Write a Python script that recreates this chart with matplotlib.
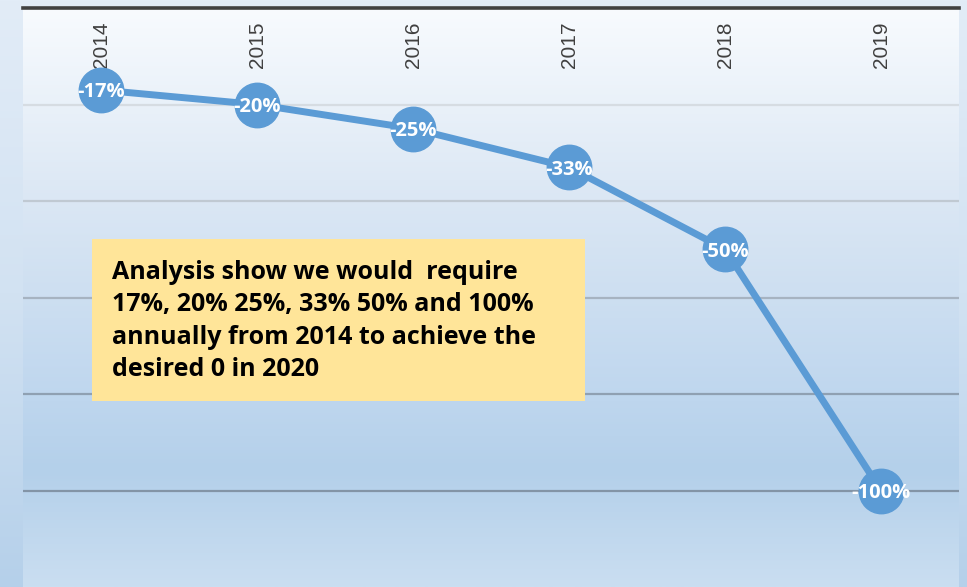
import numpy as np
import matplotlib
matplotlib.use("Agg")
import matplotlib.pyplot as plt
from matplotlib.colors import LinearSegmentedColormap
from matplotlib.patches import Rectangle

years = ["2014", "2015", "2016", "2017", "2018", "2019"]
values = [-17, -20, -25, -33, -50, -100]
point_labels = ["-17%", "-20%", "-25%", "-33%", "-50%", "-100%"]
y_ticks = [-20, -40, -60, -80, -100]
note_text = ("Analysis show we would  require\n"
             "17%, 20% 25%, 33% 50% and 100%\n"
             "annually from 2014 to achieve the\n"
             "desired 0 in 2020")

W, H = 967, 587
fig = plt.figure(figsize=(W / 100, H / 100), dpi=100)

# figure background gradient
bg_ax = fig.add_axes([0, 0, 1, 1], zorder=-10)
bg_cmap = LinearSegmentedColormap.from_list("bg", ["#e2ecf7", "#d2e2f2", "#b5d0ea"])
bg_ax.imshow(np.linspace(0, 1, 256).reshape(-1, 1), aspect="auto", cmap=bg_cmap,
             extent=[0, 1, 0, 1], origin="upper")
bg_ax.set_axis_off()

left, right, top, bottom = 23, 959, 8, 587
ax = fig.add_axes([left / W, 1 - bottom / H, (right - left) / W, (bottom - top) / H])
ax.set_facecolor("none")

x = np.arange(len(years))
ax.set_xlim(-0.5, len(years) - 0.5)
ax.set_ylim(-120, 0)

# plot area gradient
pa_cmap = LinearSegmentedColormap.from_list(
    "pa", [(0.0, "#f8fbfe"), (0.33, "#dbe7f4"), (0.68, "#bed6ee"),
           (0.80, "#b4d0ea"), (1.0, "#cadef1")])
ax.imshow(np.linspace(0, 1, 256).reshape(-1, 1), aspect="auto", cmap=pa_cmap,
          extent=[-0.5, len(years) - 0.5, -120, 0], origin="upper", zorder=0)

# gridlines
ax.set_yticks(y_ticks)
ax.yaxis.grid(True, linewidth=1.6, zorder=1)
grid_colors = ["#d6dce2", "#c0c9d2", "#a6b3c1", "#8fa0b2", "#8394a6"]
for gl, c in zip(ax.get_ygridlines(), grid_colors):
    gl.set_color(c)
ax.tick_params(axis="y", left=False, labelleft=False)

# spines
for s in ["left", "right", "bottom"]:
    ax.spines[s].set_visible(False)
ax.spines["top"].set_color("#404040")
ax.spines["top"].set_linewidth(2.6)

# x labels at top, inside plot area
ax.tick_params(axis="x", bottom=False, top=False, labelbottom=False, labeltop=True,
               pad=-13, labelsize=15, labelcolor="#404040")
ax.set_xticks(x)
ax.set_xticklabels(years, rotation=90, va="top", family="Liberation Sans")

# line + markers
line_color = "#5b9bd5"
ax.plot(x, values, color=line_color, linewidth=5, marker="o", markersize=32,
        markerfacecolor=line_color, markeredgecolor=line_color, zorder=3,
        solid_capstyle="round")

for xi, v, lab in zip(x, values, point_labels):
    ax.text(xi, v - 0.5, lab, ha="center", va="center", color="white",
            fontsize=14.5, fontweight="bold", family="Open Sans", zorder=4)

# annotation box
bx0 = (92 - left) / (right - left)
bx1 = (585 - left) / (right - left)
by_top = 1 - (239 - top) / (bottom - top)
by_bot = 1 - (401 - top) / (bottom - top)
ax.add_patch(Rectangle((bx0, by_bot), bx1 - bx0, by_top - by_bot, transform=ax.transAxes,
                       facecolor="#ffe599", edgecolor="none", zorder=5))
ax.text((112 - left) / (right - left), 1 - (321 - top) / (bottom - top), note_text,
        transform=ax.transAxes, ha="left", va="center",
        fontsize=18, fontweight="bold", family="Open Sans", color="black",
        linespacing=1.4, zorder=6)

fig.savefig("out.png", dpi=100)
